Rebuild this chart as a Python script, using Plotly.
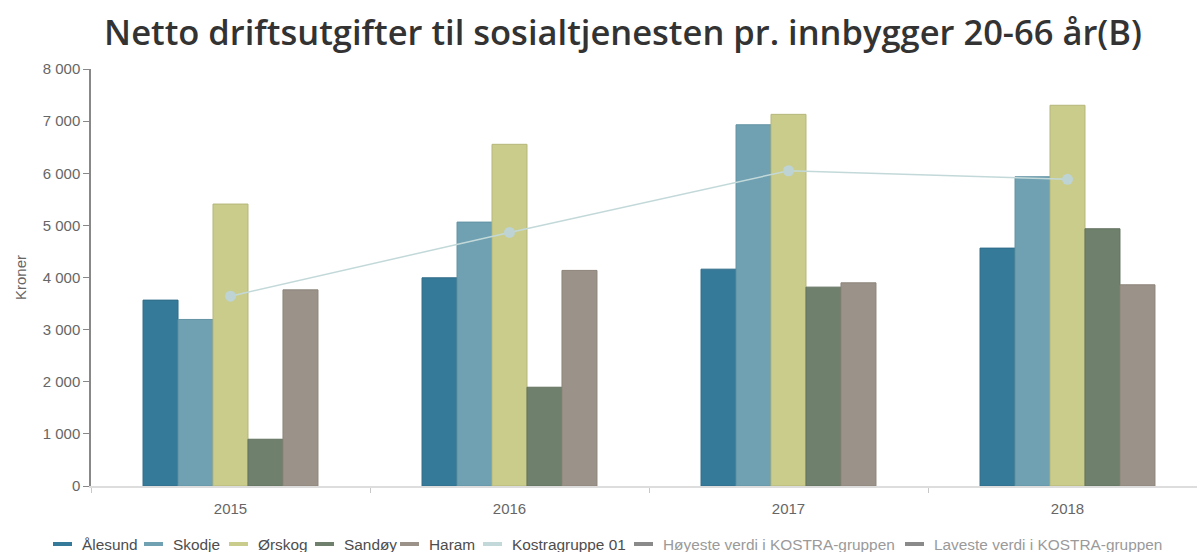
import plotly.graph_objects as go

# ---- data ----
years = ["2015", "2016", "2017", "2018"]
alesund = [3566, 3994, 4160, 4564]
skodje = [3195, 5063, 6930, 5933]
orskog = [5409, 6555, 7130, 7304]
sandoy = [897, 1895, 3815, 4935]
haram = [3763, 4136, 3898, 3860]
kostra01 = [3642, 4865, 6048, 5883]

bar_names = ["Ålesund", "Skodje", "Ørskog", "Sandøy", "Haram"]
bar_values = [alesund, skodje, orskog, sandoy, haram]
y_ticks = [0, 1000, 2000, 3000, 4000, 5000, 6000, 7000, 8000]

legend_names = ["Ålesund", "Skodje", "Ørskog", "Sandøy", "Haram", "Kostragruppe 01",
                "Høyeste verdi i KOSTRA-gruppen", "Laveste verdi i KOSTRA-gruppen"]

# ---- styles ----
bar_colors = ["#367a99", "#6fa1b2", "#cacc8c", "#6f806d", "#9b9389"]
bar_edges = ["#2f6c88", "#6393a4", "#b5b77a", "#62725f", "#8c8479"]
kostra_color = "#c3d9d9"
legend_colors = bar_colors + [kostra_color, "#8a8a8a", "#8a8a8a"]
legend_text_colors = ["#4d4d4d"] * 6 + ["#9a9a9a", "#9a9a9a"]
legend_x_px = [53, 144, 229, 315, 400, 483, 634, 905]

W, H = 1197, 552
ML, MR, MT, MB = 91, 0, 69, 66
plot_w = W - ML - MR
plot_h = H - MT - MB
cat_px = 279.0

fig = go.Figure()
for name, vals, c, e in zip(bar_names, bar_values, bar_colors, bar_edges):
    fig.add_trace(go.Bar(x=years, y=vals, name=name, marker=dict(color=c, line=dict(color=e, width=1)),
                         showlegend=False))

fig.add_trace(go.Scatter(x=years, y=kostra01, name="Kostragruppe 01", mode="lines+markers",
                         line=dict(color=kostra_color, width=1.5),
                         marker=dict(color="#bdd3d4", size=11), showlegend=False))

# manual legend
for nm, col, tcol, xp in zip(legend_names, legend_colors, legend_text_colors, legend_x_px):
    y_px = 544
    yp = (MT + plot_h - y_px) / plot_h
    x0 = (xp - ML) / plot_w
    x1 = (xp + 19 - ML) / plot_w
    fig.add_shape(type="line", xref="paper", yref="paper", x0=x0, x1=x1, y0=yp, y1=yp,
                  line=dict(color=col, width=4))
    fig.add_annotation(xref="paper", yref="paper", x=(xp + 27 - ML) / plot_w, y=yp,
                       text=nm, showarrow=False, xanchor="left", yanchor="middle",
                       font=dict(family="Liberation Sans, Arial", size=15.4, color=tcol))

fig.update_layout(
    width=W, height=H,
    margin=dict(l=ML, r=MR, t=MT, b=MB, pad=0),
    paper_bgcolor="white", plot_bgcolor="white",
    separators=", ",
    barmode="group", bargap=0.373, bargroupgap=0,
    showlegend=False,
    title=dict(text="Netto driftsutgifter til sosialtjenesten pr. innbygger 20-66 år(B)",
               x=(623 - ML) / plot_w, xref="paper", xanchor="center", y=1 - 33 / H, yanchor="middle",
               font=dict(family="Open Sans", size=34.5, color="#333333", weight=600)),
    font=dict(family="Liberation Sans, Arial", color="#666666", size=15),
)
fig.update_xaxes(type="category", range=[-0.5, -0.5 + plot_w / cat_px],
                 showline=True, linecolor="#dddddd", linewidth=2,
                 ticks="outside", tickson="boundaries", ticklen=5, tickcolor="#c8c8c8",
                 ticklabelstandoff=8,
                 showgrid=False, zeroline=False,
                 tickfont=dict(size=15, color="#666666"))
fig.update_yaxes(range=[0, 8000], tickvals=y_ticks, tickformat=",d",
                 showline=True, linecolor="#888888", linewidth=1.5,
                 ticks="outside", ticklen=6, tickcolor="#888888",
                 showgrid=False, zeroline=False,
                 title=dict(text="Kroner", font=dict(size=15, color="#666666"), standoff=12),
                 tickfont=dict(size=15, color="#666666"))

fig.write_html("out.html", config={"displayModeBar": False},
               post_script="document.body.style.margin='0';")
